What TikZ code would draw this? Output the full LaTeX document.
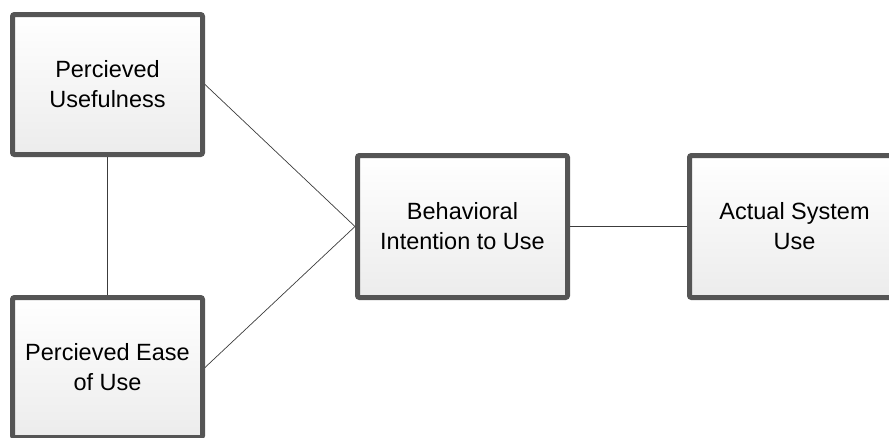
\documentclass[tikz,border=0pt]{standalone}
\usepackage{fontspec}
\setmainfont{Liberation Sans}
\usetikzlibrary{shadows}
\begin{document}
\begin{tikzpicture}[x=1pt,y=-1pt,
  boxnode/.style={draw=boxborder, line width=5pt, rounded corners=2pt,
    top color=white, bottom color=boxbottom,
    minimum width=190pt, minimum height=140pt, align=center,
    font=\fontsize{23.5}{30}\selectfont, text=black, inner sep=0pt,
    drop shadow={shadow xshift=1.5pt, shadow yshift=-1.5pt, opacity=0.25}},
  link/.style={draw=linkgray, line width=0.7pt}]
\definecolor{boxborder}{RGB}{85,85,85}
\definecolor{boxbottom}{RGB}{236,236,236}
\definecolor{linkgray}{RGB}{60,60,60}
\useasboundingbox (0,0) rectangle (889,437);
\node[boxnode] (pu) at (107.5,84.5) {Percieved\\Usefulness};
\node[boxnode] (peu) at (107.5,367.5) {Percieved Ease\\of Use};
\node[boxnode, minimum width=210pt, minimum height=142pt] (bi) at (462.5,226.5) {Behavioral\\Intention to Use};
\node[boxnode, minimum width=210pt, minimum height=142pt] (asu) at (794.5,226.5) {Actual System\\Use};
\draw[link] (pu.south) -- (peu.north);
\draw[link] (pu.east) -- (bi.west);
\draw[link] (peu.east) -- (bi.west);
\draw[link] (bi.east) -- (asu.west);
\end{tikzpicture}
\end{document}
